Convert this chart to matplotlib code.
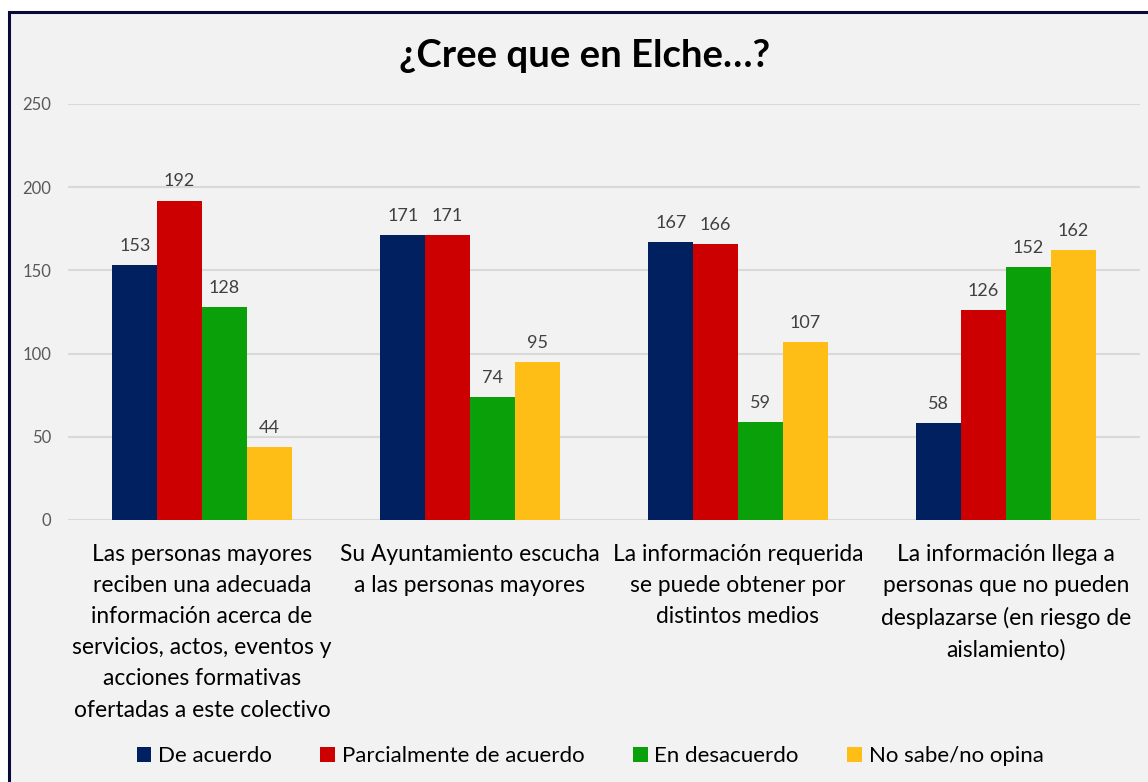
import matplotlib
matplotlib.use("Agg")
import matplotlib.pyplot as plt
import numpy as np
from matplotlib.patches import Rectangle, Patch

categories = [
    "Las personas mayores\nreciben una adecuada\ninformación acerca de\nservicios, actos, eventos y\nacciones formativas\nofertadas a este colectivo",
    "Su Ayuntamiento escucha\na las personas mayores",
    "La información requerida\nse puede obtener por\ndistintos medios",
    "La información llega a\npersonas que no pueden\ndesplazarse (en riesgo de\naislamiento)",
]
series_names = ["De acuerdo", "Parcialmente de acuerdo", "En desacuerdo", "No sabe/no opina"]
de_acuerdo = [153, 171, 167, 58]
parcialmente = [192, 171, 166, 126]
desacuerdo = [128, 74, 59, 152]
no_sabe = [44, 95, 107, 162]
yticks = [0, 50, 100, 150, 200, 250]
title = "¿Cree que en Elche…?"

colors = ["#002060", "#CC0000", "#0AA00A", "#FFBE16"]
series = [de_acuerdo, parcialmente, desacuerdo, no_sabe]

plt.rcParams['font.family'] = ['Lato', 'DejaVu Sans']

W, H = 1148, 782
fig = plt.figure(figsize=(W / 100, H / 100), dpi=100)
fig.patch.set_facecolor("white")

# chart area background with border
fig.patches.append(Rectangle((8.5 / W, -0.05), 1.1, 1 - 11.5 / H + 0.05,
                             transform=fig.transFigure, facecolor="#F2F2F2",
                             edgecolor="#0A0A3A", linewidth=2.2, zorder=-10))

ax = fig.add_axes([68 / W, (H - 520) / H, (1140 - 68) / W, 416 / H])
ax.set_facecolor("none")
x = np.arange(len(categories))
bw = 0.167
for i, (vals, c, name) in enumerate(zip(series, colors, series_names)):
    bars = ax.bar(x + (i - 1.5) * bw, vals, width=bw, color=c, label=name, zorder=3)
    ax.bar_label(bars, padding=8, fontsize=13, color="#404040")

ax.set_xlim(-0.5, len(categories) - 0.5)
ax.set_ylim(0, 250)
ax.set_yticks(yticks)
ax.set_yticklabels([str(t) for t in yticks], fontsize=12, color="#595959")
ax.tick_params(axis="y", length=0, pad=12)
ax.set_xticks(x)
ax.set_xticklabels(categories, fontsize=16.4, color="#000000", linespacing=1.6)
ax.tick_params(axis="x", length=0, pad=17)
ax.grid(axis="y", color="#D9D9D9", linewidth=1.5, zorder=0)
for s in ax.spines.values():
    s.set_visible(False)

fig.text(585 / W, 1 - 56 / H, title, ha="center", va="center",
         fontsize=27.5, fontweight="bold", color="#000000")

handles = [Patch(facecolor=c, edgecolor="none") for c in colors]
fig.legend(handles, series_names, loc="center", bbox_to_anchor=(590 / W, 1 - 756 / H),
           ncol=4, frameon=False, fontsize=16, handlelength=0.65, handleheight=0.65,
           handletextpad=0.3, columnspacing=2.2)

fig.savefig("out.png", dpi=100, facecolor=fig.get_facecolor())
